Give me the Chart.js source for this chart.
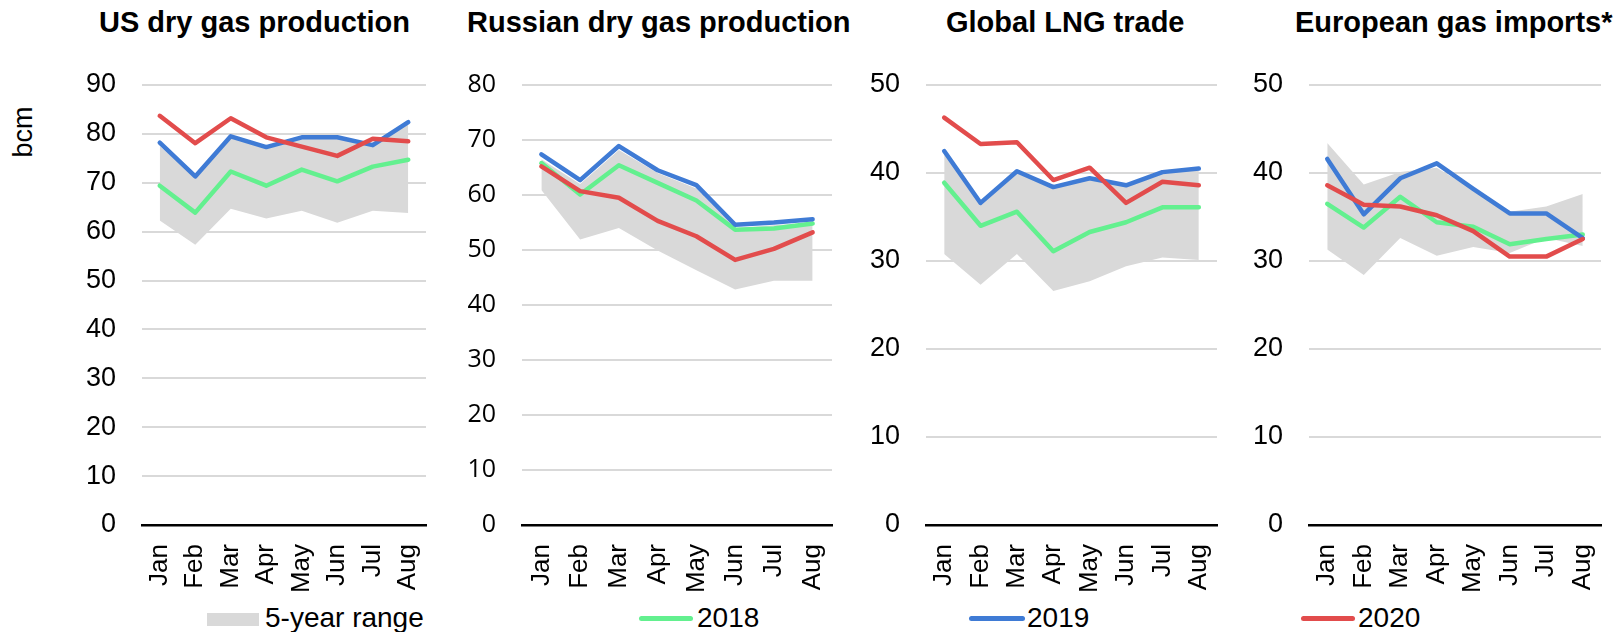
<!doctype html>
<html lang="en">
<head>
<meta charset="utf-8">
<title>Gas production and trade</title>
<script src="https://cdn.jsdelivr.net/npm/chart.js"></script>
<style>
  body { margin: 0; width: 1616px; height: 632px; background: #fff; position: relative; overflow: hidden;
         font-family: "Liberation Sans", Arial, sans-serif; color: #000; }
  .box { position: absolute; top: 0; height: 600px; }
  .title { position: absolute; top: 8px; font-size: 29px; font-weight: bold; line-height: 1; white-space: nowrap; }
  .ylab { position: absolute; font-size: 27px; line-height: 1; transform: rotate(-90deg); transform-origin: center; }
  .leg { position: absolute; font-size: 28px; line-height: 1; top: 604px; white-space: nowrap; }
  .swatch { position: absolute; }
</style>
</head>
<body>

<div class="title" style="left:99px">US dry gas production</div>
<div class="title" style="left:467px">Russian dry gas production</div>
<div class="title" style="left:946px">Global LNG trade</div>
<div class="title" style="left:1295px">European gas imports*</div>
<div class="ylab" style="left:2px; top:123px; width:42px; text-align:center">bcm</div>

<div class="box" style="left:0px; width:440px"><canvas id="c1" width="440" height="600"></canvas></div>
<div class="box" style="left:440px; width:400px"><canvas id="c2" width="400" height="600"></canvas></div>
<div class="box" style="left:850px; width:380px"><canvas id="c3" width="380" height="600"></canvas></div>
<div class="box" style="left:1230px; width:386px"><canvas id="c4" width="386" height="600"></canvas></div>

<div class="swatch" style="left:207px; top:613px; width:52px; height:13px; background:#d9d9d9"></div>
<div class="leg" style="left:265px">5-year range</div>
<div class="swatch" style="left:639px; top:616px; width:54px; height:5px; border-radius:3px; background:#63f08f"></div>
<div class="leg" style="left:697px">2018</div>
<div class="swatch" style="left:969px; top:616px; width:56px; height:5px; border-radius:3px; background:#3f7bd5"></div>
<div class="leg" style="left:1027px">2019</div>
<div class="swatch" style="left:1301px; top:616px; width:54px; height:5px; border-radius:3px; background:#e24c4c"></div>
<div class="leg" style="left:1358px">2020</div>

<script>
// months shown on every panel
var months = ['Jan', 'Feb', 'Mar', 'Apr', 'May', 'Jun', 'Jul', 'Aug'];

// US dry gas production, bcm
var usLow  = [62.3, 57.3, 64.7, 62.7, 64.3, 61.8, 64.3, 63.8];
var usHigh = [77.5, 71.0, 79.2, 77.0, 79.0, 79.0, 77.5, 82.0];
var us2018 = [69.4, 63.9, 72.3, 69.4, 72.7, 70.3, 73.3, 74.7];
var us2019 = [78.2, 71.3, 79.5, 77.3, 79.3, 79.3, 77.7, 82.4];
var us2020 = [83.7, 78.1, 83.2, 79.3, 77.4, 75.5, 79.0, 78.5];

// Russian dry gas production
var ruLow  = [60.9, 51.9, 54.0, 49.9, 46.3, 42.8, 44.4, 44.4];
var ruHigh = [66.5, 62.0, 68.2, 64.0, 61.2, 54.0, 54.5, 55.0];
var ru2018 = [65.8, 60.1, 65.4, 62.2, 59.0, 53.7, 53.9, 54.8];
var ru2019 = [67.4, 62.7, 68.9, 64.5, 61.8, 54.6, 55.0, 55.6];
var ru2020 = [65.2, 60.7, 59.5, 55.3, 52.5, 48.2, 50.2, 53.2];

// Global LNG trade
var lngLow  = [30.8, 27.3, 30.8, 26.6, 27.7, 29.4, 30.4, 30.1];
var lngHigh = [42.2, 36.6, 40.0, 38.3, 39.2, 38.5, 40.0, 40.3];
var lng2018 = [38.9, 34.0, 35.6, 31.1, 33.3, 34.4, 36.1, 36.1];
var lng2019 = [42.5, 36.6, 40.2, 38.4, 39.4, 38.6, 40.1, 40.5];
var lng2020 = [46.3, 43.3, 43.5, 39.2, 40.6, 36.6, 39.0, 38.6];

// European gas imports
var euLow  = [31.3, 28.4, 32.6, 30.6, 31.6, 30.9, 32.6, 31.7];
var euHigh = [43.4, 38.7, 40.1, 40.6, 38.1, 35.6, 36.2, 37.6];
var eu2018 = [36.5, 33.8, 37.3, 34.4, 33.9, 31.9, 32.5, 33.0];
var eu2019 = [41.6, 35.3, 39.4, 41.1, 38.2, 35.4, 35.4, 32.6];
var eu2020 = [38.6, 36.4, 36.2, 35.2, 33.4, 30.5, 30.5, 32.5];

function line(label, data, color) {
  return {
    label: label, data: data, borderColor: color, backgroundColor: color,
    borderWidth: 4.5, pointRadius: 0, tension: 0, fill: false,
    borderJoinStyle: 'round', borderCapStyle: 'round'
  };
}

function makeChart(id, low, high, s18, s19, s20, yMax, yWidth, rightPad, tickFont) {
  var ctx = document.getElementById(id).getContext('2d');
  return new Chart(ctx, {
    type: 'line',
    data: {
      labels: months,
      datasets: [
        line('2020', s20, '#e24c4c'),
        line('2019', s19, '#3f7bd5'),
        line('2018', s18, '#63f08f'),
        { label: 'low', data: low, borderWidth: 0, pointRadius: 0, fill: false, borderColor: 'rgba(0,0,0,0)' },
        { label: '5-year range', data: high, borderWidth: 0, pointRadius: 0, fill: '-1',
          backgroundColor: '#d9d9d9', borderColor: 'rgba(0,0,0,0)' }
      ]
    },
    options: {
      responsive: false,
      animation: false,
      layout: { padding: { top: 85, right: rightPad, bottom: 0, left: 0 } },
      plugins: {
        legend: { display: false },
        tooltip: { enabled: false },
        filler: { drawTime: 'beforeDatasetsDraw' }
      },
      scales: {
        x: {
          offset: true,
          grid: { display: false },
          border: { color: '#000', width: 2.5 },
          ticks: { color: '#000', minRotation: 90, maxRotation: 90, padding: 11,
                   font: { family: 'Liberation Sans', size: 26 } },
          afterFit: function (s) { s.height = 75; s.paddingLeft = 0; s.paddingRight = 0; }
        },
        y: {
          min: 0, max: yMax,
          grid: { color: '#d9d9d9', lineWidth: 2, drawTicks: false },
          border: { display: false },
          ticks: { stepSize: 10, color: '#000', padding: 26, font: tickFont },
          afterFit: function (s) { s.width = yWidth; s.paddingTop = 0; s.paddingBottom = 0; }
        }
      }
    }
  });
}

var arial = { family: 'Liberation Sans', size: 27 };
makeChart('c1', usLow, usHigh, us2018, us2019, us2020, 90, 142, 14, arial);
makeChart('c2', ruLow, ruHigh, ru2018, ru2019, ru2020, 80, 82, 8, { family: 'Open Sans', size: 25 });
makeChart('c3', lngLow, lngHigh, lng2018, lng2019, lng2020, 50, 76, 13, arial);
makeChart('c4', euLow, euHigh, eu2018, eu2019, eu2020, 50, 79, 15, arial);
</script>
</body>
</html>
